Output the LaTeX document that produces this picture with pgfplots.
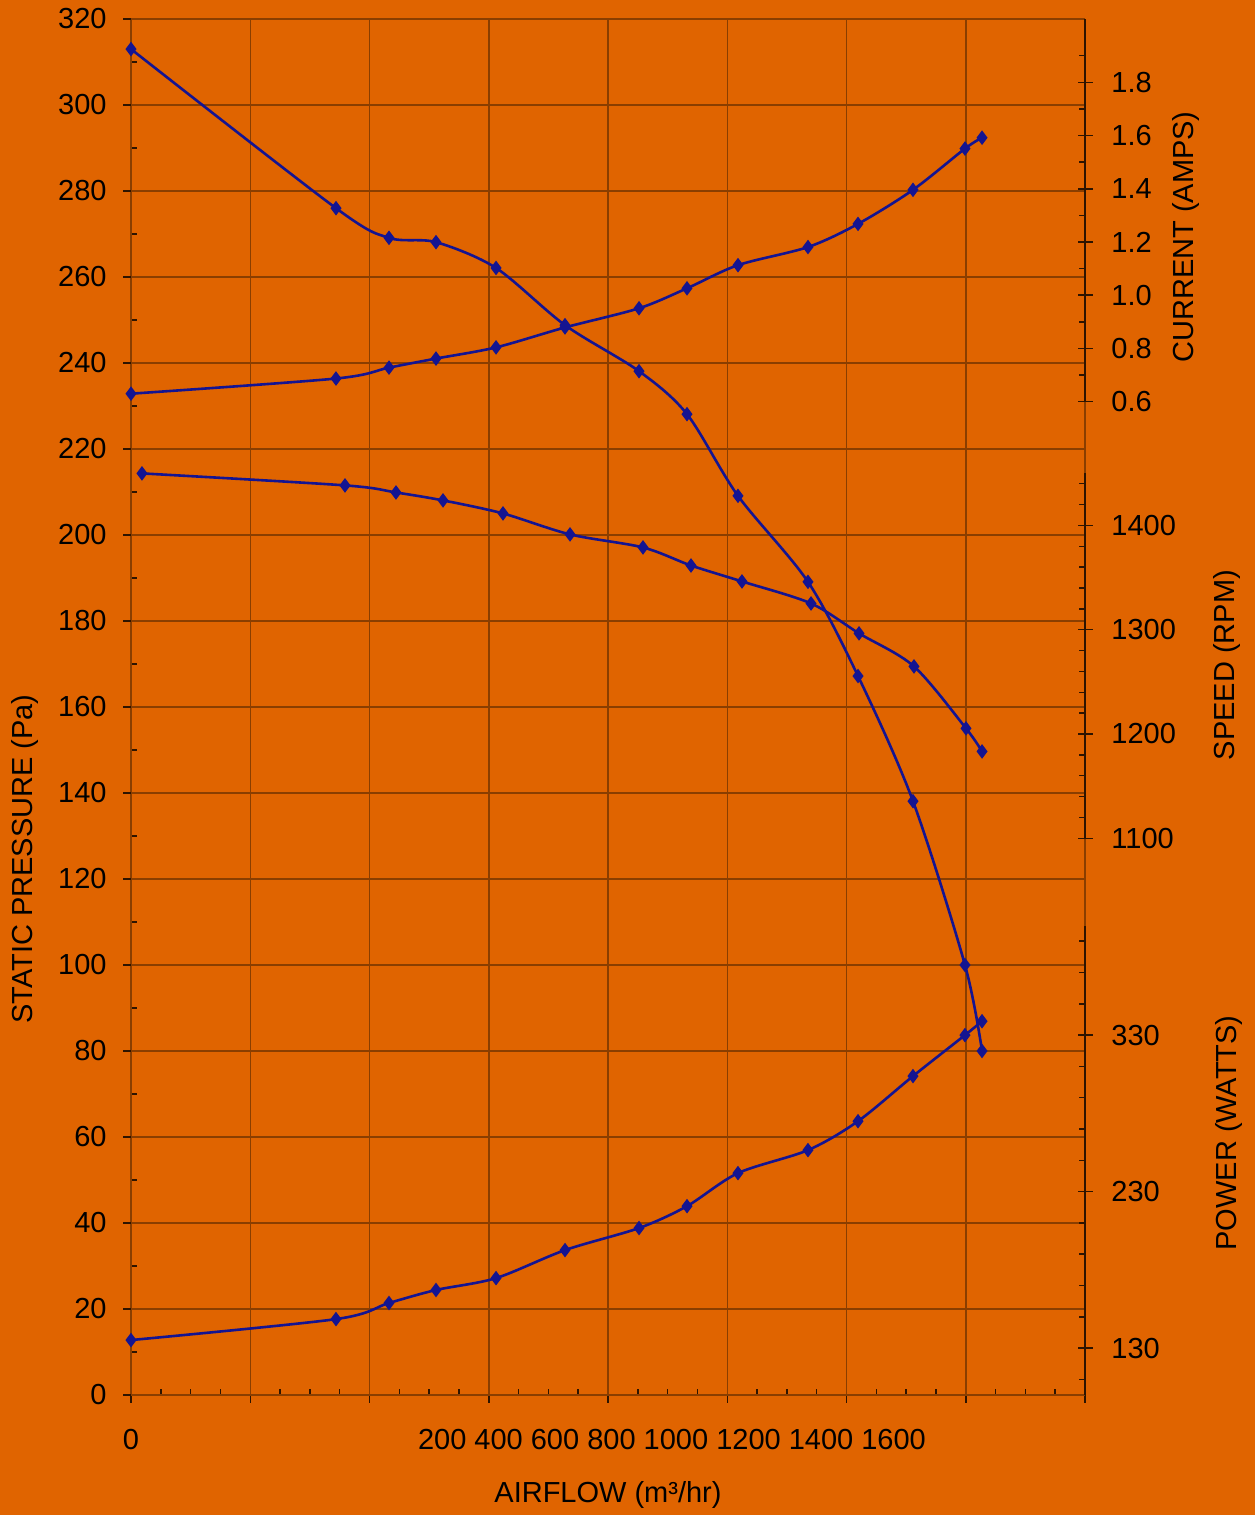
\documentclass[border=0pt]{standalone}
\usepackage{fontspec}
\setmainfont{Liberation Sans}
\usepackage{pgfplots}
\pgfplotsset{compat=1.18}

\definecolor{bg}{RGB}{224,100,0}
\definecolor{gridc}{RGB}{138,62,0}
\definecolor{spine}{RGB}{45,20,0}
\definecolor{curve}{RGB}{20,20,145}

\pgfplotsset{
  fan/.style={
    scale only axis, width=477pt, xmin=0, xmax=1600,
    anchor=south west, clip=false,
    /pgf/number format/assume math mode=true,
    /pgf/number format/1000 sep={},
    axis line style={spine, line width=0.75pt},
    tick style={spine, line width=0.75pt},
  },
  curv/.style={curve, line width=1.3pt, smooth, mark=diamond*,
    mark size=2.6pt, mark options={solid, fill=curve}},
  rightax/.style={
    axis x line=none, axis y line*=right,
    yticklabels={}, tick align=inside, major tick length=3pt,
    extra y tick style={tick align=center, major tick length=7.5pt},
    yticklabel style={anchor=west, inner sep=0pt, xshift=9.25pt},
  },
}

\begin{document}
\fontsize{14.5}{17}\selectfont
\begin{tikzpicture}
\path[use as bounding box, fill=bg] (0,0) rectangle (627.5pt,757.5pt);

% static pressure
\begin{axis}[fan, at={(65.5pt,60pt)}, height=688pt,
  ymin=0, ymax=320,
  axis x line*=bottom, axis y line*=left,
  xtick={0,200,...,1600}, xticklabels={},
  ytick={0,20,...,320},
  minor x tick num=3, minor y tick num=1,
  grid=major, major grid style={gridc, line width=0.75pt},
  tick align=inside, major tick length=0pt, minor tick length=3pt,
  extra x ticks={0,200,...,1600}, extra x tick labels={},
  extra y ticks={0,20,...,320}, extra y tick labels={},
  extra x tick style={tick align=outside, major tick length=4pt},
  extra y tick style={tick align=outside, major tick length=4pt},
  yticklabel style={anchor=east, inner sep=0pt, xshift=-12pt},
]
\addplot[curv] coordinates {
(0,313.0) (343.8,276.0) (432.7,269.1) (511.5,268.1) (612.2,262.1)
(727.9,248.8) (852.0,238.1) (932.5,228.1) (1018.0,209.1) (1135.4,189.1)
(1219.3,167.2) (1311.5,138.1) (1398.7,100.0) (1427.3,80.0)
};
\end{axis}

% current
\begin{axis}[fan, rightax, at={(65.5pt,556.65pt)}, height=191.35pt,
  ymin=0.6, ymax=2.038,
  ytick={0.7,0.9,1.1,1.3,1.5,1.7,1.9},
  extra y ticks={0.6,0.8,1.0,1.2,1.4,1.6,1.8},
  /pgf/number format/fixed, /pgf/number format/fixed zerofill,
  /pgf/number format/precision=1,
]
\addplot[curv] coordinates {
(0,0.630) (343.8,0.687) (432.7,0.728) (511.5,0.762) (612.2,0.804)
(727.9,0.879) (852.0,0.951) (932.5,1.026) (1018.0,1.113) (1135.4,1.181)
(1219.3,1.268) (1311.5,1.396) (1398.7,1.551) (1427.3,1.592)
};
\end{axis}

% speed
\begin{axis}[fan, rightax, at={(65.5pt,338.35pt)}, height=182.5pt,
  ymin=1100, ymax=1450,
  ytick={1120,1140,1160,1180,1220,1240,1260,1280,1320,1340,1360,1380,1420,1440},
  extra y ticks={1100,1200,1300,1400},
]
\addplot[curv] coordinates {
(18.4,1449.9) (358.9,1438.4) (444.4,1431.6) (523.3,1424.0) (623.9,1411.5)
(736.3,1391.4) (858.7,1378.9) (939.2,1361.6) (1024.7,1346.3) (1140.5,1325.2)
(1221.0,1296.5) (1313.2,1264.8) (1400.4,1205.4) (1427.3,1183.3)
};
\end{axis}

% power
\begin{axis}[fan, rightax, at={(65.5pt,60pt)}, height=234.7pt,
  ymin=100, ymax=400,
  ytick={110,150,170,190,210,250,270,290,310,350,370,390},
  extra y ticks={130,230,330},
]
\addplot[curv] coordinates {
(0,135.1) (343.8,148.5) (432.7,158.8) (511.5,167.1) (612.2,174.7)
(727.9,192.6) (852.0,206.7) (932.5,220.7) (1018.0,241.8) (1135.4,256.5)
(1219.3,275.0) (1311.5,303.8) (1398.7,330.0) (1427.3,338.9)
};
\end{axis}

\node at (65.5pt,37.5pt) {0};
\node at (336pt,37.5pt) {200 400 600 800 1000 1200 1400 1600};
\node at (304pt,10pt) {AIRFLOW (m³/hr)};
\node[rotate=90] at (12.5pt,328pt) {STATIC PRESSURE (Pa)};
\node[rotate=90] at (593pt,639pt) {CURRENT (AMPS)};
\node[rotate=90] at (613.5pt,425pt) {SPEED (RPM)};
\node[rotate=90] at (614.5pt,191pt) {POWER (WATTS)};
\end{tikzpicture}
\end{document}
